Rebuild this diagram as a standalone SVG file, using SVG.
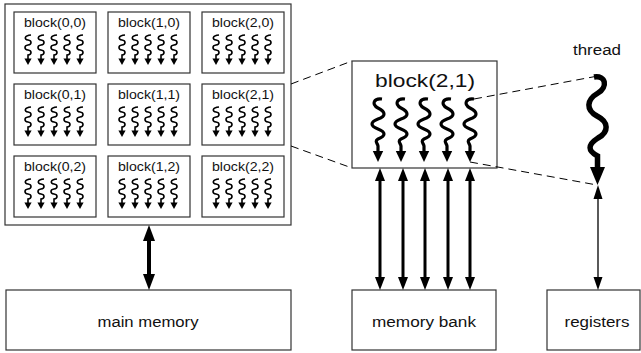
<svg xmlns="http://www.w3.org/2000/svg" xmlns:xlink="http://www.w3.org/1999/xlink" width="641" height="353" viewBox="0 0 641 353">
<style>
.box{fill:#fff;stroke:#333;stroke-width:1.2}
.t{font-family:"Liberation Sans",Arial,sans-serif;fill:#111;text-anchor:middle}
.st{font-size:13px}
.sq{fill:none;stroke:#000;stroke-width:1.6}
.bq{fill:none;stroke:#000;stroke-width:3.2}
.dash{fill:none;stroke:#000;stroke-width:1;stroke-dasharray:8,5}
.sh{stroke:#000;fill:none}
</style>
<defs>
<g id="ssq">
<path class="sq" d="M3,0 C-4,0.5 -4,4.5 0,5 C4,5.5 4,9.5 0,10 C-4,10.5 -4,14.5 0,15 C4,15.5 4,19.5 0,20 L0,24.5"/>
<polygon points="-3.6,23.5 3.6,23.5 0,30"/>
</g>
<g id="five">
<use xlink:href="#ssq" x="-26"/>
<use xlink:href="#ssq" x="-13"/>
<use xlink:href="#ssq" x="0"/>
<use xlink:href="#ssq" x="13"/>
<use xlink:href="#ssq" x="26"/>
</g>
<g id="bsq">
<path class="bq" d="M4,0 C-4,-1 -7,5 0,9 C8,13 8,17 0,20 C-8,23 -8,27 0,30 C8,33 8,37 0,40 C-4,42 0,45 0,47 L0,53"/>
<polygon points="-5.2,52 5.2,52 0,63"/>
</g>
</defs>

<g id="grid">
<rect class="box" x="5" y="4" width="286" height="221"/>
</g>
<g id="block00"><rect class="box" x="14" y="12" width="82" height="61"/><text class="t st" x="55" y="27.3" textLength="62" lengthAdjust="spacingAndGlyphs">block(0,0)</text><use xlink:href="#five" x="54" y="35"/></g>
<g id="block10"><rect class="box" x="108" y="12" width="82" height="61"/><text class="t st" x="149" y="27.3" textLength="62" lengthAdjust="spacingAndGlyphs">block(1,0)</text><use xlink:href="#five" x="148" y="35"/></g>
<g id="block20"><rect class="box" x="202" y="12" width="82" height="61"/><text class="t st" x="243" y="27.3" textLength="62" lengthAdjust="spacingAndGlyphs">block(2,0)</text><use xlink:href="#five" x="242" y="35"/></g>
<g id="block01"><rect class="box" x="14" y="84" width="82" height="61"/><text class="t st" x="55" y="99.3" textLength="62" lengthAdjust="spacingAndGlyphs">block(0,1)</text><use xlink:href="#five" x="54" y="107"/></g>
<g id="block11"><rect class="box" x="108" y="84" width="82" height="61"/><text class="t st" x="149" y="99.3" textLength="62" lengthAdjust="spacingAndGlyphs">block(1,1)</text><use xlink:href="#five" x="148" y="107"/></g>
<g id="block21"><rect class="box" x="202" y="84" width="82" height="61"/><text class="t st" x="243" y="99.3" textLength="62" lengthAdjust="spacingAndGlyphs">block(2,1)</text><use xlink:href="#five" x="242" y="107"/></g>
<g id="block02"><rect class="box" x="14" y="156" width="82" height="61"/><text class="t st" x="55" y="171.3" textLength="62" lengthAdjust="spacingAndGlyphs">block(0,2)</text><use xlink:href="#five" x="54" y="179"/></g>
<g id="block12"><rect class="box" x="108" y="156" width="82" height="61"/><text class="t st" x="149" y="171.3" textLength="62" lengthAdjust="spacingAndGlyphs">block(1,2)</text><use xlink:href="#five" x="148" y="179"/></g>
<g id="block22"><rect class="box" x="202" y="156" width="82" height="61"/><text class="t st" x="243" y="171.3" textLength="62" lengthAdjust="spacingAndGlyphs">block(2,2)</text><use xlink:href="#five" x="242" y="179"/></g>

<g id="bigblock">
<rect class="box" x="352" y="61" width="145" height="107"/>
<text class="t" x="425" y="87" font-size="19" textLength="100" lengthAdjust="spacingAndGlyphs">block(2,1)</text>
<use xlink:href="#bsq" x="378" y="99"/>
<use xlink:href="#bsq" x="401" y="99"/>
<use xlink:href="#bsq" x="424" y="99"/>
<use xlink:href="#bsq" x="447" y="99"/>
<use xlink:href="#bsq" x="470" y="99"/>
</g>

<g id="thread">
<text class="t" x="597" y="55" font-size="14" textLength="48" lengthAdjust="spacingAndGlyphs">thread</text>
<path fill="none" stroke="#000" stroke-width="5.5" d="M594,77 C606,75 608,87 598,93 C586,100 586,110 597,116 C609,122 609,132 598,138 C587,145 588,151 597.5,156 L597.5,169"/>
<polygon points="590,167 605,167 597.5,185"/>
</g>

<g id="mainmemory">
<rect class="box" x="6" y="290" width="285" height="60"/>
<text class="t" x="148" y="327" font-size="14" textLength="101" lengthAdjust="spacingAndGlyphs">main memory</text>
</g>
<g id="memorybank">
<rect class="box" x="352" y="290" width="144" height="60"/>
<text class="t" x="424" y="327" font-size="14" textLength="104" lengthAdjust="spacingAndGlyphs">memory bank</text>
</g>
<g id="registers">
<rect class="box" x="547" y="290" width="93" height="60"/>
<text class="t" x="597" y="327" font-size="14" textLength="65" lengthAdjust="spacingAndGlyphs">registers</text>
</g>

<g id="connectors">
<path class="dash" d="M291,84 L352,61 M291,146 L352,168 M474,99 L598,76 M470,162 L597,185"/>
<line class="sh" x1="149" y1="238" x2="149" y2="277" stroke-width="4"/>
<polygon points="143,241 155,241 149,225"/>
<polygon points="143,274 155,274 149,290"/>
<g stroke-width="3">
<line class="sh" x1="380" y1="178" x2="380" y2="280"/>
<line class="sh" x1="403" y1="178" x2="403" y2="280"/>
<line class="sh" x1="425" y1="178" x2="425" y2="280"/>
<line class="sh" x1="448" y1="178" x2="448" y2="280"/>
<line class="sh" x1="470" y1="178" x2="470" y2="280"/>
</g>
<polygon points="375,181 385,181 380,168"/><polygon points="375,277 385,277 380,290"/>
<polygon points="398,181 408,181 403,168"/><polygon points="398,277 408,277 403,290"/>
<polygon points="420,181 430,181 425,168"/><polygon points="420,277 430,277 425,290"/>
<polygon points="443,181 453,181 448,168"/><polygon points="443,277 453,277 448,290"/>
<polygon points="465,181 475,181 470,168"/><polygon points="465,277 475,277 470,290"/>
<line class="sh" x1="598" y1="196" x2="598" y2="280" stroke-width="1.3"/>
<polygon points="593.5,199 602.5,199 598,185"/>
<polygon points="593.5,277 602.5,277 598,290"/>
</g>
</svg>
